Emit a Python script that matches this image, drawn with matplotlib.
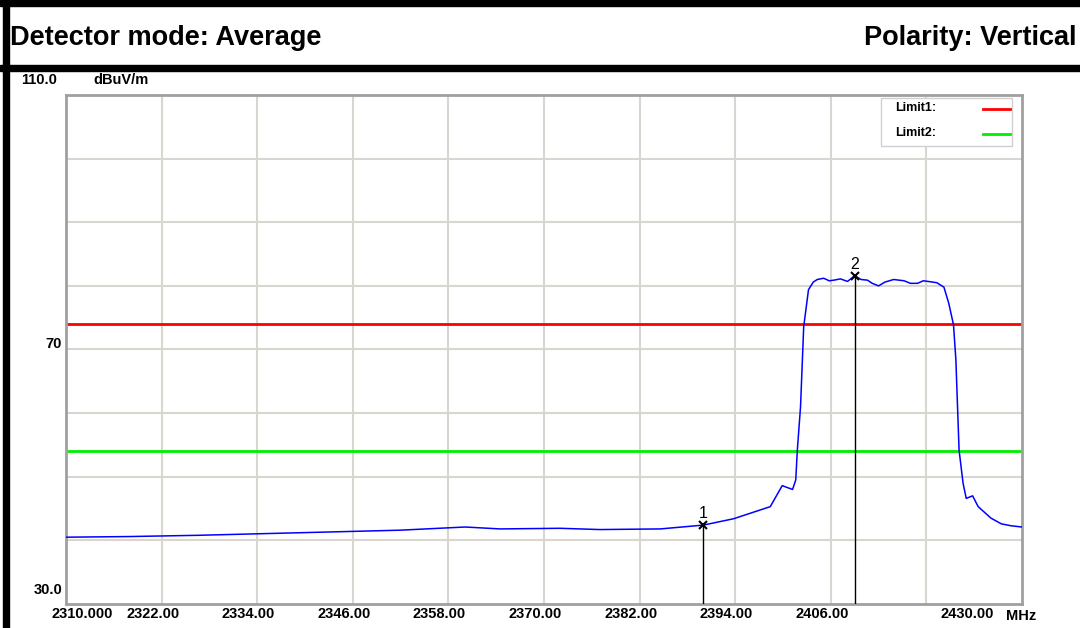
import matplotlib
matplotlib.use("Agg")
import matplotlib.pyplot as plt
from matplotlib.patches import Rectangle
from matplotlib.lines import Line2D
from matplotlib.transforms import ScaledTranslation

# ---- data ----
freq_mhz = [2310.0, 2317.9, 2326.7, 2339.3, 2351.9, 2360.1, 2364.5, 2372.0, 2377.0,
            2384.6, 2390.0, 2393.8, 2398.4, 2399.9, 2401.2, 2401.6, 2401.8, 2402.2,
            2402.6, 2403.2, 2403.8, 2404.3, 2405.1, 2405.8, 2406.4, 2407.2, 2408.1,
            2409.0, 2409.8, 2410.6, 2411.2, 2412.0, 2412.8, 2413.9, 2415.2, 2416.0,
            2416.9, 2417.6, 2418.2, 2419.3, 2420.2, 2420.8, 2421.4, 2421.7, 2422.1,
            2422.6, 2423.0, 2423.8, 2424.5, 2426.1, 2427.4, 2428.6, 2430.0]
level_dbuv = [40.5, 40.6, 40.8, 41.2, 41.6, 42.1, 41.8, 41.9, 41.7,
              41.8, 42.4, 43.4, 45.3, 48.6, 48.0, 49.5, 54.2, 61.0,
              73.6, 79.4, 80.6, 81.0, 81.2, 80.8, 80.9, 81.1, 80.7,
              81.6, 81.0, 80.9, 80.4, 80.0, 80.6, 81.0, 80.8, 80.4,
              80.4, 80.8, 80.7, 80.5, 79.8, 77.3, 73.9, 68.4, 54.2,
              49.0, 46.6, 47.0, 45.3, 43.5, 42.6, 42.3, 42.1]
limit1 = 74.0
limit2 = 54.0
marker_ids = ["1", "2"]
marker_freq = [2390.0, 2409.0]
marker_level = [42.4, 81.6]
x_ticks = [2310, 2322, 2334, 2346, 2358, 2370, 2382, 2394, 2406, 2418, 2430]
x_tick_labels = ["2310.000", "2322.00", "2334.00", "2346.00", "2358.00", "2370.00",
                 "2382.00", "2394.00", "2406.00", "", "2430.00"]
y_grid = [30, 40, 50, 60, 70, 80, 90, 100, 110]
y_labels = {110: "110.0", 70: "70", 30: "30.0"}

W, H = 1080, 628
fig = plt.figure(figsize=(W / 100, H / 100), dpi=100)
fig.patch.set_facecolor("white")

# header frame
fig.patches.append(Rectangle((0, 1 - 5.5 / H), 1, 5.5 / H, transform=fig.transFigure,
                             color="black", zorder=5))
fig.patches.append(Rectangle((0, 1 - 70.5 / H), 1, 5.5 / H, transform=fig.transFigure,
                             color="black", zorder=5))
fig.patches.append(Rectangle((3 / W, 0), 6 / W, 1, transform=fig.transFigure,
                             color="black", zorder=5))
fig.text(10 / W, 1 - 45 / H, "Detector mode: Average", fontsize=19.5, fontweight="bold",
         family="Liberation Sans", va="baseline", ha="left")
fig.text(1077 / W, 1 - 45 / H, "Polarity: Vertical", fontsize=19.5, fontweight="bold",
         family="Liberation Sans", va="baseline", ha="right")

ax = fig.add_axes([66 / W, 1 - 604 / H, (1022 - 66) / W, (604 - 95) / H])
ax.set_xlim(2310, 2430)
ax.set_ylim(30, 110)
for s in ax.spines.values():
    s.set_color("#a0a0a0")
    s.set_linewidth(2)

# grid
for xv in x_ticks[1:-1]:
    ax.axvline(xv, color="#d9d5d0", lw=1.5, zorder=1)
for yv in y_grid[1:-1]:
    ax.axhline(yv, color="#d9d5d0", lw=1.5, zorder=1)

# limits
ax.axhline(limit1, color="#ff0000", lw=2, zorder=2)
ax.axhline(limit2, color="#00ee00", lw=2, zorder=2)

# trace
ax.plot(freq_mhz, level_dbuv, color="#0000ff", lw=1.1, zorder=3)

# markers
for mid, mf, ml in zip(marker_ids, marker_freq, marker_level):
    ax.plot([mf, mf], [30, ml], color="black", lw=1, zorder=4)
    ax.plot(mf, ml, marker="x", color="black", ms=6, mew=1.5, zorder=5)
    ax.annotate(mid, (mf, ml), xytext=(0, 3), textcoords="offset points",
                ha="center", va="bottom", fontsize=11.5, family="Liberation Sans")

# ticks
ax.tick_params(axis="both", length=0, pad=2)
ax.set_xticks(x_ticks)
ax.set_xticklabels(x_tick_labels, fontsize=10.5, fontweight="bold", family="Liberation Sans")
ax.set_yticks([])
for i, lab in enumerate(ax.get_xticklabels()):
    if i == 0:
        lab.set_ha("left")
        dx = -15
    elif i == len(x_ticks) - 1:
        lab.set_ha("right")
        dx = -28
    else:
        dx = -9
    lab.set_transform(lab.get_transform() + ScaledTranslation(dx / 100, 0, fig.dpi_scale_trans))
fig.text(1006 / W, 1 - 616 / H, "MHz", fontsize=10.5, fontweight="bold",
         family="Liberation Sans", va="center", ha="left")

# y labels
fig.text(57 / W, 1 - 80 / H, y_labels[110], fontsize=10.5, fontweight="bold",
         family="Liberation Sans", va="center", ha="right")
fig.text(93 / W, 1 - 80 / H, "dBuV/m", fontsize=10.5, fontweight="bold",
         family="Liberation Sans", va="center", ha="left")
ax.annotate(y_labels[70], (2310, 70), xytext=(-4, 5), textcoords="offset pixels",
            ha="right", va="center", fontsize=10.5, fontweight="bold",
            family="Liberation Sans", annotation_clip=False)
ax.annotate(y_labels[30], (2310, 30), xytext=(-4, 14), textcoords="offset pixels",
            ha="right", va="center", fontsize=10.5, fontweight="bold",
            family="Liberation Sans", annotation_clip=False)

# legend box
ax.add_patch(Rectangle((0.852, 0.900), 0.138, 0.094, transform=ax.transAxes,
                       facecolor="white", edgecolor="#d0d0d0", lw=1, zorder=6))
ax.text(0.867, 0.974, "Limit1:", transform=ax.transAxes, fontsize=9, fontweight="bold",
        family="Liberation Sans", va="center", ha="left", zorder=7)
ax.text(0.867, 0.925, "Limit2:", transform=ax.transAxes, fontsize=9, fontweight="bold",
        family="Liberation Sans", va="center", ha="left", zorder=7)
ax.add_line(Line2D([0.959, 0.987], [0.972, 0.972], transform=ax.transAxes,
                   color="#ff0000", lw=2, zorder=7))
ax.add_line(Line2D([0.959, 0.987], [0.923, 0.923], transform=ax.transAxes,
                   color="#00ee00", lw=2, zorder=7))

fig.savefig("out.png", dpi=100)
